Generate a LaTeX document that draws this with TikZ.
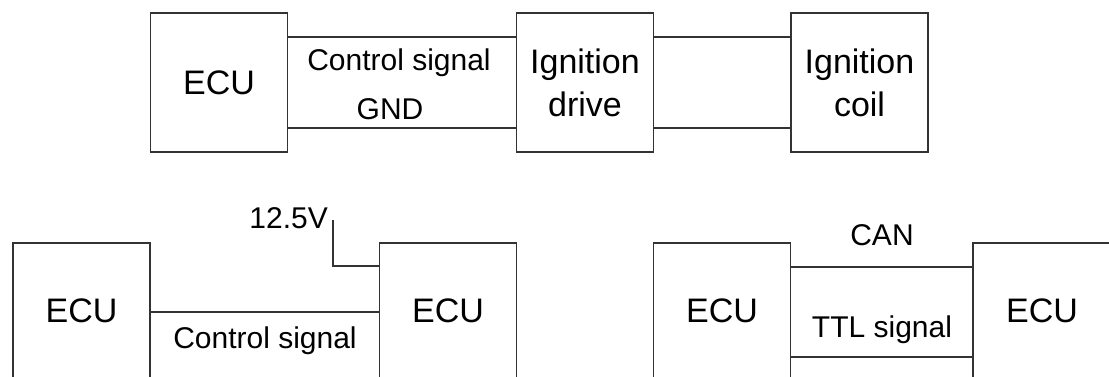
\documentclass[tikz,border=0pt]{standalone}
\usepackage{fontspec}
\setmainfont{Liberation Sans}
\begin{document}
\begin{tikzpicture}[x=1pt,y=-1pt,
  box/.style={draw=black!80, line width=1.5pt, rectangle, inner sep=0pt, minimum width=137pt, minimum height=139pt, align=center, font=\fontsize{34}{43}\selectfont},
  tallbox/.style={draw=black!80, line width=1.5pt, rectangle, inner sep=0pt, minimum width=137pt, minimum height=200pt},
  boxtext/.style={inner sep=0pt, anchor=base, font=\fontsize{34}{43}\selectfont},
  wlabel/.style={inner sep=0pt, anchor=base, font=\fontsize{30}{36}\selectfont},
  wire/.style={draw=black!80, line width=1.5pt}]
\useasboundingbox (0,0) rectangle (1109,376);
\clip (0,0) rectangle (1109,376);
% top row
\node[box] (ecuA) at (219,82.5) {ECU};
\node[box] (drive) at (585,82.5) {Ignition\\drive};
\node[box] (coil) at (859.5,82.5) {Ignition\\coil};
\draw[wire] (ecuA.east |- 0,37) -- (drive.west |- 0,37);
\draw[wire] (ecuA.east |- 0,128) -- (drive.west |- 0,128);
\draw[wire] (drive.east |- 0,37) -- (coil.west |- 0,37);
\draw[wire] (drive.east |- 0,128) -- (coil.west |- 0,128);
\node[wlabel] (ctl1) at (399,70) {Control signal};
\node[wlabel] (gnd) at (390,119) {GND};
% bottom left
\node[tallbox] (ecuB) at (81.5,343) {};
\node[tallbox] (ecuC) at (448,343) {};
\node[boxtext] (tB) at (81.5,322) {ECU};
\node[boxtext] (tC) at (448,322) {ECU};
\draw[wire] (ecuB.east |- 0,312) -- (ecuC.west |- 0,312);
\node[wlabel] (ctl2) at (265,348) {Control signal};
\node[wlabel, anchor=base east] (v) at (328,228) {12.5V};
\coordinate (vtop) at (333,220);
\draw[wire] (vtop) |- (ecuC.west |- 0,266);
% bottom right
\node[tallbox] (ecuD) at (722,343) {};
\node[tallbox] (ecuE) at (1041.5,343) {};
\node[boxtext] (tD) at (722,322) {ECU};
\node[boxtext] (tE) at (1042,322) {ECU};
\draw[wire] (ecuD.east |- 0,267) -- (ecuE.west |- 0,267);
\draw[wire] (ecuD.east |- 0,357) -- (ecuE.west |- 0,357);
\node[wlabel] (can) at (882,245) {CAN};
\node[wlabel] (ttl) at (882,337) {TTL signal};
\end{tikzpicture}
\end{document}
